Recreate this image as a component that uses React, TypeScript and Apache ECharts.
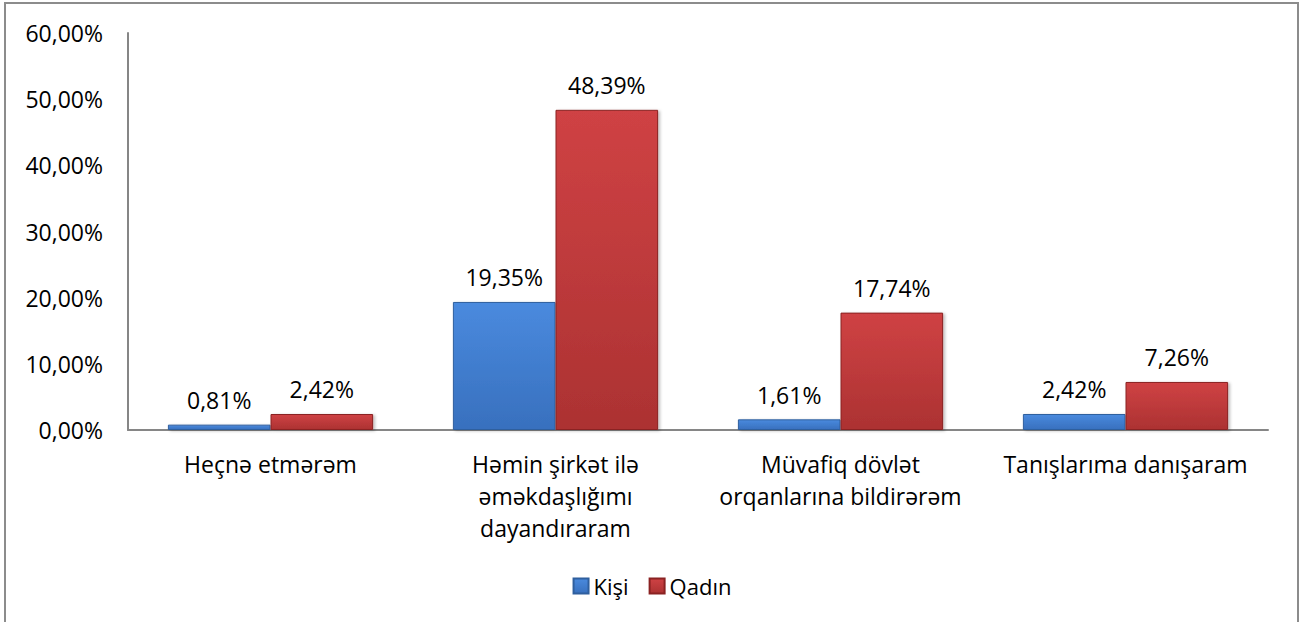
import React, { useEffect, useRef } from "react";
import * as echarts from "echarts";

const categories = [
  "Heçnə etmərəm",
  "Həmin şirkət ilə\nəməkdaşlığımı\ndayandıraram",
  "Müvafiq dövlət\norqanlarına bildirərəm",
  "Tanışlarıma danışaram",
];
const kisi = [0.81, 19.35, 1.61, 2.42];
const qadin = [2.42, 48.39, 17.74, 7.26];
const seriesNames = ["Kişi", "Qadın"];

const FONT = "'Open Sans', sans-serif";
const FS = 23;
const fmt = (v: number) => v.toFixed(2).replace(".", ",") + "%";

export default function App() {
  const ref = useRef<HTMLDivElement>(null);
  useEffect(() => {
    if (!ref.current) return;
    const chart = echarts.init(ref.current, null, { renderer: "svg" });
    const blue = new echarts.graphic.LinearGradient(0, 0, 0, 1, [
      { offset: 0, color: "#4a8ade" },
      { offset: 1, color: "#3870be" },
    ]);
    const red = new echarts.graphic.LinearGradient(0, 0, 0, 1, [
      { offset: 0, color: "#cf4244" },
      { offset: 1, color: "#ac3232" },
    ]);
    const label = {
      show: true,
      position: "top",
      distance: 13,
      fontFamily: FONT,
      fontSize: FS,
      color: "#000",
      formatter: (p: any) => fmt(p.value),
    };
    chart.setOption({
      animation: false,
      backgroundColor: "#ffffff",
      textStyle: { fontFamily: FONT },
      graphic: [
        {
          type: "rect",
          shape: { x: 5, y: 3, width: 1293, height: 700 },
          style: { fill: "none", stroke: "#8c8c8c", lineWidth: 2 },
          silent: true,
        },
      ],
      grid: { left: 128, right: 36, top: 33, bottom: 192, containLabel: false },
      legend: {
        data: seriesNames,
        left: "center",
        top: 570,
        icon: "rect",
        itemWidth: 15,
        itemHeight: 15,
        itemGap: 20,
        textStyle: { fontFamily: FONT, fontSize: 22, color: "#000" },
      },
      xAxis: {
        type: "category",
        data: categories,
        axisLine: { lineStyle: { color: "#868686", width: 2 } },
        axisTick: { show: false },
        axisLabel: {
          interval: 0,
          margin: 18,
          fontFamily: FONT,
          fontSize: FS,
          lineHeight: 32,
          color: "#000",
        },
      },
      yAxis: {
        type: "value",
        min: 0,
        max: 60,
        interval: 10,
        axisLine: { show: true, lineStyle: { color: "#868686", width: 2 } },
        axisTick: { show: false },
        splitLine: { show: false },
        axisLabel: {
          margin: 25,
          fontFamily: FONT,
          fontSize: FS,
          color: "#000",
          formatter: (v: number) => fmt(v),
        },
      },
      series: [
        {
          name: seriesNames[0],
          type: "bar",
          data: kisi,
          barGap: "0%",
          barCategoryGap: "28%",
          itemStyle: {
            color: blue,
            borderColor: "#2f5f9e",
            borderWidth: 1,
            shadowColor: "rgba(0,0,0,0.25)",
            shadowBlur: 3,
            shadowOffsetX: 2,
            shadowOffsetY: 1,
          },
          label,
        },
        {
          name: seriesNames[1],
          type: "bar",
          data: qadin,
          barGap: "0%",
          barCategoryGap: "28%",
          itemStyle: {
            color: red,
            borderColor: "#8a2222",
            borderWidth: 1,
            shadowColor: "rgba(0,0,0,0.25)",
            shadowBlur: 3,
            shadowOffsetX: 2,
            shadowOffsetY: 1,
          },
          label,
        },
      ],
    });
    return () => chart.dispose();
  }, []);
  return (
    <div
      ref={ref}
      style={{ position: "fixed", left: 0, top: 0, width: 1304, height: 622 }}
    />
  );
}
